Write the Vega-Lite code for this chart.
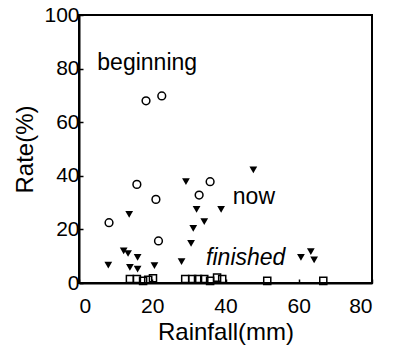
{
  "$schema": "https://vega.github.io/schema/vega-lite/v6.json",
  "autosize": "none",
  "width": 293,
  "height": 268,
  "padding": {"left": 79, "top": 15, "right": 22, "bottom": 64},
  "background": "white",
  "config": {
    "font": "Liberation Sans",
    "view": {"stroke": "black", "strokeWidth": 2},
    "axis": {
      "grid": false,
      "domainColor": "black",
      "domainWidth": 2,
      "tickColor": "black",
      "tickSize": -4,
      "tickWidth": 1.5,
      "labelColor": "black",
      "labelFontSize": 21,
      "titleColor": "black",
      "titleFontSize": 24,
      "titleFontWeight": "normal"
    }
  },
  "datasets": {
    "pts": [
      {"Rainfall": 18.3, "Rate": 68.0, "stage": "beginning"},
      {"Rainfall": 22.6, "Rate": 69.8, "stage": "beginning"},
      {"Rainfall": 8.2, "Rate": 22.5, "stage": "beginning"},
      {"Rainfall": 15.8, "Rate": 36.8, "stage": "beginning"},
      {"Rainfall": 21.0, "Rate": 31.2, "stage": "beginning"},
      {"Rainfall": 21.7, "Rate": 15.7, "stage": "beginning"},
      {"Rainfall": 32.8, "Rate": 32.8, "stage": "beginning"},
      {"Rainfall": 35.8, "Rate": 37.8, "stage": "beginning"},
      {"Rainfall": 8.0, "Rate": 6.7, "stage": "now"},
      {"Rainfall": 12.2, "Rate": 12.0, "stage": "now"},
      {"Rainfall": 13.4, "Rate": 11.0, "stage": "now"},
      {"Rainfall": 13.7, "Rate": 25.6, "stage": "now"},
      {"Rainfall": 13.9, "Rate": 5.8, "stage": "now"},
      {"Rainfall": 16.0, "Rate": 9.6, "stage": "now"},
      {"Rainfall": 16.0, "Rate": 5.2, "stage": "now"},
      {"Rainfall": 20.6, "Rate": 6.5, "stage": "now"},
      {"Rainfall": 28.0, "Rate": 8.0, "stage": "now"},
      {"Rainfall": 29.2, "Rate": 37.8, "stage": "now"},
      {"Rainfall": 30.6, "Rate": 14.8, "stage": "now"},
      {"Rainfall": 31.2, "Rate": 20.4, "stage": "now"},
      {"Rainfall": 32.1, "Rate": 27.5, "stage": "now"},
      {"Rainfall": 34.2, "Rate": 22.9, "stage": "now"},
      {"Rainfall": 38.8, "Rate": 27.5, "stage": "now"},
      {"Rainfall": 47.6, "Rate": 42.2, "stage": "now"},
      {"Rainfall": 60.6, "Rate": 9.6, "stage": "now"},
      {"Rainfall": 63.3, "Rate": 11.7, "stage": "now"},
      {"Rainfall": 64.2, "Rate": 8.6, "stage": "now"},
      {"Rainfall": 13.9, "Rate": 1.5, "stage": "finished"},
      {"Rainfall": 15.8, "Rate": 1.5, "stage": "finished"},
      {"Rainfall": 17.5, "Rate": 0.8, "stage": "finished"},
      {"Rainfall": 18.9, "Rate": 1.2, "stage": "finished"},
      {"Rainfall": 20.2, "Rate": 1.8, "stage": "finished"},
      {"Rainfall": 29.0, "Rate": 1.5, "stage": "finished"},
      {"Rainfall": 30.9, "Rate": 1.5, "stage": "finished"},
      {"Rainfall": 32.5, "Rate": 1.5, "stage": "finished"},
      {"Rainfall": 34.2, "Rate": 1.5, "stage": "finished"},
      {"Rainfall": 35.8, "Rate": 0.8, "stage": "finished"},
      {"Rainfall": 37.7, "Rate": 2.0, "stage": "finished"},
      {"Rainfall": 39.1, "Rate": 1.5, "stage": "finished"},
      {"Rainfall": 51.4, "Rate": 0.8, "stage": "finished"},
      {"Rainfall": 66.7, "Rate": 0.8, "stage": "finished"}
    ],
    "labels": [
      {"Rainfall": 5, "Rate": 82, "label": "beginning"},
      {"Rainfall": 42, "Rate": 32, "label": "now"},
      {"Rainfall": 34.7, "Rate": 9.3, "label": "finished"}
    ]
  },
  "encoding": {
    "x": {"field": "Rainfall", "type": "quantitative", "scale": {"domain": [0, 80], "nice": false}, "axis": {"values": [0, 20, 40, 60, 80], "title": "Rainfall(mm)", "labelPadding": 16, "titlePadding": 4}},
    "y": {"field": "Rate", "type": "quantitative", "scale": {"domain": [0, 100], "nice": false}, "axis": {"values": [0, 20, 40, 60, 80, 100], "title": "Rate(%)", "labelPadding": 4, "titlePadding": 6}}
  },
  "layer": [
    {
      "data": {"name": "pts"},
      "transform": [{"filter": "datum.stage === 'beginning'"}],
      "mark": {"type": "point", "shape": "circle", "filled": false, "stroke": "black", "strokeWidth": 1.5, "size": 60, "opacity": 1}
    },
    {
      "data": {"name": "pts"},
      "transform": [{"filter": "datum.stage === 'now'"}],
      "mark": {"type": "point", "shape": "triangle-down", "filled": true, "fill": "black", "size": 60, "opacity": 1}
    },
    {
      "data": {"name": "pts"},
      "transform": [{"filter": "datum.stage === 'finished'"}],
      "mark": {"type": "point", "shape": "square", "filled": false, "stroke": "black", "strokeWidth": 1.5, "size": 50, "opacity": 1}
    },
    {
      "data": {"name": "labels"},
      "transform": [{"filter": "datum.label !== 'finished'"}],
      "mark": {"type": "text", "align": "left", "baseline": "middle", "fontSize": 23, "color": "black"},
      "encoding": {"text": {"field": "label"}}
    },
    {
      "data": {"name": "labels"},
      "transform": [{"filter": "datum.label === 'finished'"}],
      "mark": {"type": "text", "align": "left", "baseline": "middle", "fontSize": 23, "fontStyle": "italic", "color": "black"},
      "encoding": {"text": {"field": "label"}}
    }
  ]
}
